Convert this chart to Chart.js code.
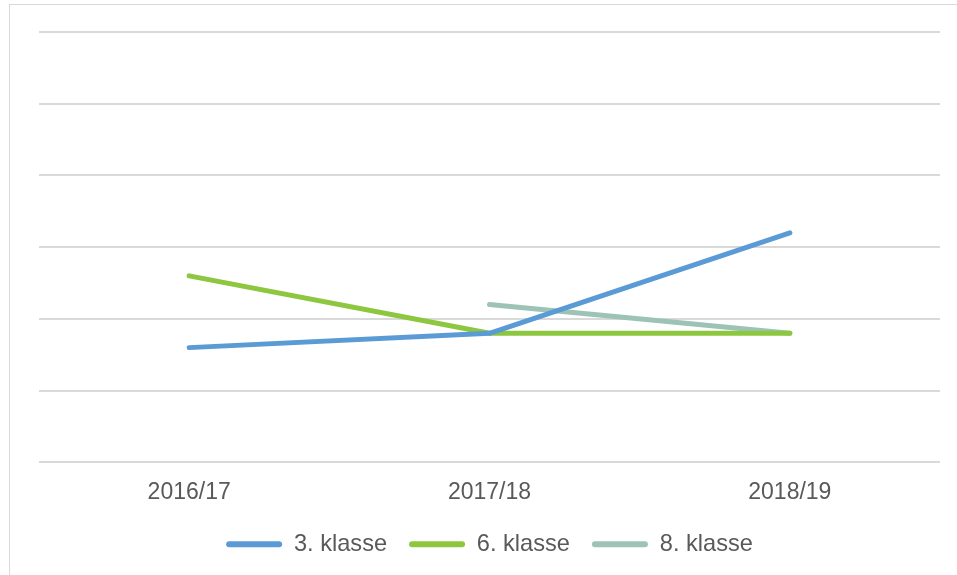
<!DOCTYPE html>
<html>
<head>
<meta charset="utf-8">
<script src="https://cdn.jsdelivr.net/npm/chart.js@4"></script>
<style>
  html, body { margin: 0; padding: 0; background: #ffffff; overflow: hidden; }
  #wrap { position: relative; width: 957px; height: 575px; overflow: hidden; }
  #frame { position: absolute; left: 9px; top: 4px; width: 1000px; height: 620px; border: 1px solid #d9d9d9; box-sizing: border-box; }
  #cv { position: absolute; left: 0; top: 0; }
</style>
</head>
<body>
<div id="wrap">
  <div id="frame"></div>
  <canvas id="cv" width="957" height="575"></canvas>
</div>
<script>
const categories = ["2016/17", "2017/18", "2018/19"];
const klasse3 = [1.6, 1.8, 3.2];
const klasse6 = [2.6, 1.8, 1.8];
const klasse8 = [null, 2.2, 1.8];
const seriesNames = ["3. klasse", "6. klasse", "8. klasse"];
const seriesColors = ["#5B9BD5", "#8DC63F", "#9DC3B6"];
const yMin = 0, yMax = 6, yStep = 1;

const FONT = "'Liberation Sans', Arial, sans-serif";
const TEXT = "#595959";

function ds(label, data, color) {
  return {
    label, data,
    borderColor: color, backgroundColor: color,
    borderWidth: 5, pointRadius: 0, pointHoverRadius: 0,
    borderCapStyle: 'round', borderJoinStyle: 'round',
    tension: 0, spanGaps: false
  };
}

new Chart(document.getElementById('cv'), {
  type: 'line',
  data: {
    labels: categories,
    datasets: [
      ds(seriesNames[0], klasse3, seriesColors[0]),
      ds(seriesNames[1], klasse6, seriesColors[1]),
      ds(seriesNames[2], klasse8, seriesColors[2])
    ]
  },
  options: {
    responsive: false,
    animation: false,
    layout: { padding: { left: 39, right: 17, top: 32, bottom: 9 } },
    plugins: {
      title: { display: false },
      tooltip: { enabled: false },
      legend: {
        position: 'bottom',
        labels: {
          font: { family: FONT, size: 23.6 },
          color: TEXT,
          boxWidth: 56,
          boxHeight: 6,
          padding: 22,
          useBorderRadius: true,
          borderRadius: 3,
          generateLabels: (chart) => chart.data.datasets.map((d, i) => ({
            text: d.label,
            fillStyle: d.borderColor,
            strokeStyle: d.borderColor,
            lineWidth: 0,
            borderRadius: 3,
            hidden: false,
            datasetIndex: i,
            fontColor: TEXT
          }))
        }
      }
    },
    scales: {
      x: {
        offset: true,
        grid: { display: false, drawTicks: false },
        border: { display: false },
        ticks: { font: { family: FONT, size: 23 }, color: TEXT, padding: 16, maxRotation: 0 },
        afterFit: (s) => { s.height = 48; }
      },
      y: {
        min: yMin, max: yMax,
        ticks: { stepSize: yStep, display: false },
        grid: { color: '#d9d9d9', lineWidth: 2, drawTicks: false },
        border: { display: false }
      }
    }
  }
});
</script>
</body>
</html>
